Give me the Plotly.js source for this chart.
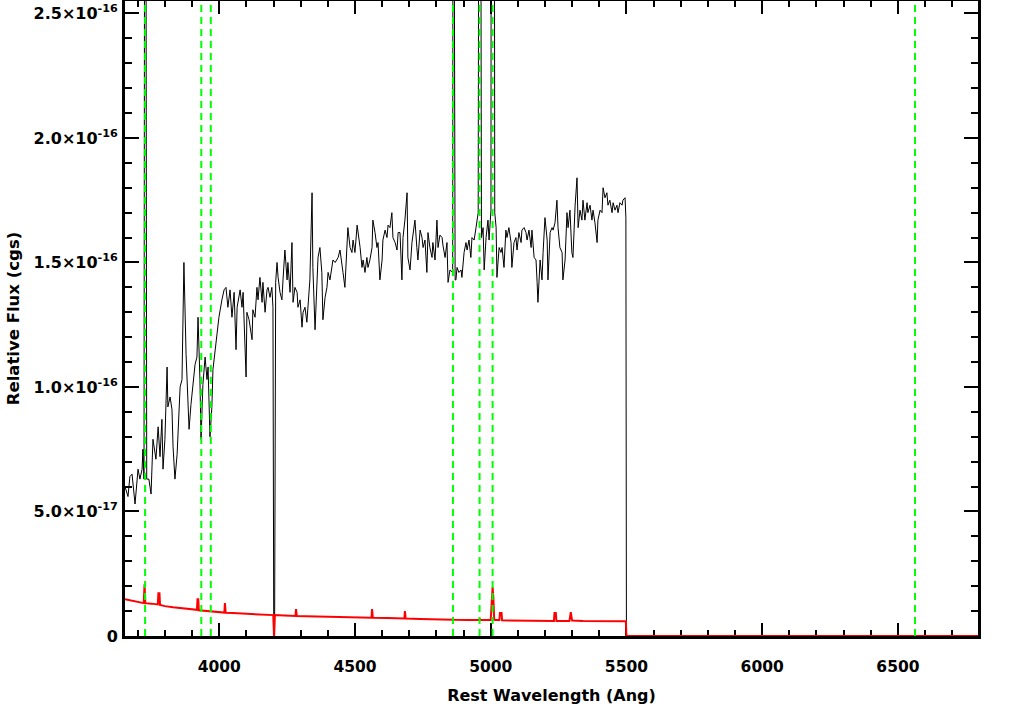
<!DOCTYPE html>
<html>
<head>
<meta charset="utf-8">
<script src="https://cdn.plot.ly/plotly-3.0.1.min.js"></script>
<style>html,body{margin:0;padding:0;background:#fff;}#chart{width:1020px;height:706px;}</style>
</head>
<body>
<div id="chart"></div>
<script>
// Flux values are in units of 1e-17 erg/s/cm^2/A
const FLUX_UNIT = 1e-17;

const wave = [
  3653,3664,3671,3679,3690,3697,3701,3708,3716,3719,
  3723,3726,3729,3733,3741,3749,3756,3767,3775,3782,
  3789,3793,3800,3808,3811,3819,3826,3830,3837,3845,
  3848,3856,3863,3870,3878,3885,3889,3896,3903,3911,
  3918,3922,3929,3933,3940,3948,3955,3959,3966,3973,
  3977,3985,3992,3999,4010,4018,4025,4032,4040,4047,
  4055,4062,4066,4077,4084,4088,4099,4102,4110,4121,
  4124,4132,4139,4143,4150,4158,4161,4169,4176,4180,
  4187,4194,4198,4201,4204,4208,4213,4217,4224,4231,
  4235,4242,4250,4253,4261,4268,4272,4279,4287,4290,
  4298,4305,4309,4316,4323,4327,4334,4342,4345,4353,
  4360,4364,4371,4378,4382,4390,4397,4401,4408,4415,
  4419,4427,4434,4438,4445,4452,4456,4463,4471,4474,
  4482,4489,4493,4500,4508,4511,4519,4526,4530,4537,
  4544,4548,4555,4563,4566,4574,4581,4585,4592,4600,
  4603,4611,4618,4622,4629,4636,4640,4648,4655,4659,
  4666,4673,4677,4684,4692,4695,4703,4710,4714,4721,
  4728,4732,4740,4747,4751,4758,4765,4769,4776,4784,
  4787,4795,4802,4806,4813,4821,4824,4832,4839,4843,
  4850,4857,4860,4862,4866,4869,4872,4876,4883,4891,
  4894,4902,4909,4913,4920,4927,4931,4939,4946,4950,
  4954,4957,4962,4966,4972,4976,4983,4990,4994,5001,
  5004,5007,5011,5015,5020,5023,5031,5038,5042,5049,
  5056,5060,5067,5075,5078,5086,5093,5097,5104,5112,
  5115,5123,5130,5134,5141,5149,5152,5160,5167,5171,
  5174,5182,5189,5193,5200,5208,5211,5219,5226,5230,
  5237,5244,5248,5255,5263,5266,5274,5281,5285,5292,
  5299,5303,5311,5318,5322,5329,5336,5340,5347,5355,
  5358,5366,5373,5377,5384,5392,5395,5403,5410,5414,
  5421,5428,5432,5439,5447,5451,5458,5465,5469,5476,
  5484,5487,5495,5498,5500,6795
];

const flux = [
  6.0,5.6,6.4,6.5,5.3,6.2,6.7,6.3,6.7,7.5,
  6.3,40,40,6.3,6.3,5.7,7.9,7.1,8.4,7.2,
  8.7,6.7,7.9,10.8,9.2,9.6,9.1,7.6,6.3,7.3,
  7.9,10.0,10.3,15.0,11.3,9.2,8.3,9.3,10.1,10.9,
  11.2,12.8,10.3,7.9,10.1,11.2,10.3,10.8,8.0,9.2,
  10.7,11.5,12.0,12.8,13.5,13.9,14.0,13.2,13.9,12.8,
  13.8,11.5,13.2,13.9,13.2,13.8,10.4,13.0,12.7,11.9,
  13.1,12.8,14.0,13.5,14.4,13.4,14.2,13.0,13.9,14.0,
  13.6,14.0,13.2,0,0,14.2,15.0,14.4,13.8,13.5,
  14.3,15.5,14.3,15.0,13.8,15.8,13.4,14.0,13.8,13.2,
  13.5,12.4,13.0,13.2,12.6,13.2,14.3,17.8,14.8,12.3,
  14.3,15.2,15.6,14.6,12.7,13.6,14.0,14.6,14.3,14.8,
  15.1,15.0,15.1,15.2,15.5,14.8,14.6,14.0,15.6,16.4,
  15.6,15.4,15.9,15.4,16.5,16.3,15.6,14.8,15.1,14.6,
  15.2,14.8,15.1,15.6,16.7,16.2,15.6,15.8,14.3,15.1,
  15.9,16.3,16.0,16.5,16.4,17.0,16.0,15.8,15.5,16.2,
  16.2,14.3,16.0,16.7,17.8,15.2,14.7,15.8,16.2,16.7,
  15.6,15.1,16.3,16.0,15.6,15.9,14.6,16.2,15.6,15.2,
  15.8,15.1,16.7,15.6,16.1,16.0,15.7,15.2,15.8,14.2,
  14.7,14.6,14.6,45,45,14.3,14.3,14.8,14.6,14.7,
  14.4,15.4,15.8,15.5,15.9,15.2,16.0,15.9,16.4,16.7,
  17.0,40,40,16.0,16.4,14.7,16.0,16.7,15.9,17.1,
  50,120,60,17.0,16.4,14.4,15.6,15.4,15.6,14.8,
  16.3,16.0,16.4,15.8,14.8,15.8,16.0,15.5,16.2,15.8,
  16.3,16.4,16.2,15.9,16.3,15.6,16.3,15.2,15.1,14.2,
  13.4,15.1,14.3,15.4,16.8,15.9,14.3,16.2,16.4,16.3,
  16.6,17.5,16.4,15.6,15.4,14.3,15.1,17.0,16.4,17.1,
  15.4,15.2,17.3,18.4,16.4,17.1,16.7,17.5,16.7,17.4,
  17.0,17.3,16.7,17.1,16.6,15.8,16.7,17.1,17.0,18.0,
  17.6,17.8,17.3,17.5,17.0,17.4,17.1,17.3,17.0,17.4,
  17.3,17.5,17.6,16.8,0,0
];

const errWave = [
  3653,3670,3690,3710,3722,3725,3728,3750,3774,3776,
  3780,3782,3800,3830,3860,3890,3918,3920,3923,3925,
  3950,3980,4019,4021,4024,4050,4080,4120,4160,4199,
  4202,4205,4240,4281,4283,4286,4320,4360,4400,4450,
  4500,4561,4563,4566,4620,4682,4684,4687,4740,4800,
  4859,4861,4864,4920,4957,4959,4962,5000,5004,5007,
  5010,5013,5018,5032,5034,5040,5042,5080,5140,5200,
  5233,5235,5240,5242,5290,5295,5300,5340,5400,5450,
  5498,5500,6795
];

const errFlux = [
  1.48,1.44,1.40,1.35,1.32,2.08,1.32,1.30,1.27,1.72,
  1.72,1.25,1.20,1.15,1.12,1.08,1.05,1.48,1.48,1.03,
  1.00,0.97,0.94,1.32,0.93,0.92,0.90,0.88,0.86,0.84,
  0,0.84,0.82,0.80,1.08,0.80,0.79,0.78,0.77,0.76,
  0.75,0.73,1.08,0.73,0.72,0.70,1.00,0.70,0.68,0.66,
  0.65,0.72,0.65,0.64,0.64,0.70,0.64,0.64,1.2,1.97,
  1.5,0.65,0.64,0.64,0.92,0.92,0.63,0.62,0.61,0.61,
  0.60,0.92,0.92,0.60,0.60,0.96,0.62,0.60,0.60,0.60,
  0.59,0,0
];

// Marked emission / absorption lines (Angstrom)
const lineWaves = [3727, 3934, 3969, 4861, 4959, 5007, 6563];

// Y tick labels
const yTickVals = [0, 5e-17, 1e-16, 1.5e-16, 2e-16, 2.5e-16];
const yTickText = ["0", "5.0×10<sup>-17</sup>", "1.0×10<sup>-16</sup>", "1.5×10<sup>-16</sup>", "2.0×10<sup>-16</sup>", "2.5×10<sup>-16</sup>"];

const FONT = "DejaVu Sans, Liberation Sans, Arial, sans-serif";

const traces = [
  {
    x: wave, y: flux.map(v => v * FLUX_UNIT),
    type: "scatter", mode: "lines",
    line: {color: "#000000", width: 1},
    hoverinfo: "skip", showlegend: false
  },
  {
    x: errWave, y: errFlux.map(v => v * FLUX_UNIT),
    type: "scatter", mode: "lines",
    line: {color: "#ff0000", width: 2},
    hoverinfo: "skip", showlegend: false
  }
];

const shapes = lineWaves.map(w => ({
  type: "line", xref: "x", yref: "paper",
  x0: w, x1: w, y0: 0, y1: 1,
  line: {color: "#00ff00", width: 2, dash: "7px,5px"},
  layer: "above"
}));

const layout = {
  width: 1020, height: 706,
  margin: {l: 125, r: 42, t: 1, b: 70},
  paper_bgcolor: "#ffffff", plot_bgcolor: "#ffffff",
  showlegend: false,
  shapes: shapes,
  xaxis: {
    range: [3653, 6795],
    showgrid: false, zeroline: false,
    showline: true, linewidth: 3, linecolor: "#000",
    layer: "below traces",
    mirror: "allticks",
    ticks: "inside", ticklen: 13, tickwidth: 2, tickcolor: "#000",
    tickmode: "linear", tick0: 0, dtick: 500,
    ticklabelstandoff: 14,
    tickfont: {family: FONT, size: 15.5, color: "#000", weight: "bold"},
    minor: {ticks: "inside", ticklen: 6, tickwidth: 2, tickcolor: "#000", dtick: 100, tick0: 0, showgrid: false},
    title: {text: "Rest Wavelength (Ang)", font: {family: FONT, size: 16, color: "#000", weight: "bold"}, standoff: 16}
  },
  yaxis: {
    range: [0, 2.55e-16],
    showgrid: false, zeroline: false,
    showline: true, linewidth: 3, linecolor: "#000",
    mirror: "allticks",
    ticks: "inside", ticklen: 14, tickwidth: 2, tickcolor: "#000",
    tickmode: "array", tickvals: yTickVals, ticktext: yTickText,
    ticklabelstandoff: 1,
    tickfont: {family: FONT, size: 16, color: "#000", weight: "bold"},
    minor: {ticks: "inside", ticklen: 7, tickwidth: 2, tickcolor: "#000", tickmode: "linear", tick0: 0, dtick: 1e-17, showgrid: false},
    title: {text: "Relative Flux (cgs)", font: {family: FONT, size: 16.5, color: "#000", weight: "bold"}, standoff: 10}
  }
};

Plotly.newPlot("chart", traces, layout, {displayModeBar: false, staticPlot: true});
</script>
</body>
</html>
